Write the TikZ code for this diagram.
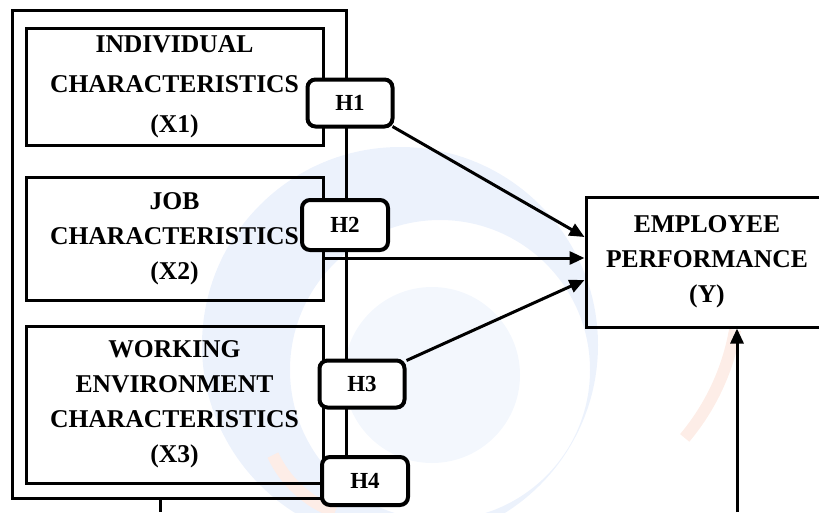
\documentclass[tikz,border=0pt]{standalone}
\usepackage{fontspec}
\setmainfont{Liberation Serif}
\usetikzlibrary{arrows.meta,positioning,calc}
\definecolor{markblue}{RGB}{236,242,252}
\definecolor{markpale}{RGB}{243,247,253}
\definecolor{markorange}{RGB}{253,237,231}
\tikzset{
    var/.style ={rectangle, draw, line width=3pt, inner sep=0pt, align=center, font=\bfseries\fontsize{25.6}{35}\selectfont},
    hyp/.style = {rectangle, draw, rounded corners=8pt, line width=4pt, fill=white, inner sep=0pt, minimum width=85pt, minimum height=47pt, font=\bfseries\fontsize{23}{25}\selectfont},
    link/.style={-{Triangle[length=15pt,width=13pt]}, line width=3pt}
}
\begin{document}
\begin{tikzpicture}[x=1pt,y=-1pt]
    \useasboundingbox (0,0) rectangle (819,512);
    % faint watermark behind the diagram
    \fill[markblue, even odd rule] (400,345) circle (198pt) (440,370) circle (150pt);
    \fill[markpale] (432,375) circle (88pt);
    \draw[markorange, line width=12pt] (735,330) arc (-10:-40:230pt);
    \draw[markorange, line width=12pt] (335,512) arc (250:205:110pt);

    % frame round the three variables
    \node[var, minimum width=334pt, minimum height=488pt] (frame) at (179,254) {};

    % variable boxes with absolute coordinates
    \node[var, minimum width=297pt, minimum height=117pt, font=\bfseries\fontsize{25.6}{40}\selectfont] (x1) at (174.5,86.5) {INDIVIDUAL\\CHARACTERISTICS\\(X1)};
    \node[var, minimum width=297pt, minimum height=123pt] (x2) at (174.5,238.5) {JOB\\CHARACTERISTICS\\(X2)};
    \node[var, minimum width=297pt, minimum height=157pt] (x3) at (174.5,404.5) {WORKING\\ENVIRONMENT\\CHARACTERISTICS\\(X3)};
    \node[var, minimum width=242pt, minimum height=130pt] (y) at (707,262) {EMPLOYEE\\PERFORMANCE\\(Y)};

    % hypothesis labels
    \node[hyp] (h1) at (350,103) {H1};
    \node[hyp, minimum width=86pt, minimum height=50pt] (h2) at (345,225) {H2};
    \node[hyp] (h3) at (362,384) {H3};
    \node[hyp, minimum width=86pt, minimum height=48pt] (h4) at (365,481) {H4};

    % Directed edges
    \coordinate (t1) at ([yshift=25pt]y.west);
    \coordinate (t2) at ([yshift=4pt]y.west);
    \coordinate (t3) at ([yshift=-18pt]y.west);
    \draw[link] ([shift={(-2pt,2pt)}]h1.south east) -- (t1);
    \draw[link] (x2.east |- t2) -- (t2);
    \draw[link] ([shift={(0pt,-2pt)}]h3.north east) -- (t3);

    % lines leaving the bottom edge
    \coordinate (stub) at (160,512);
    \draw[line width=3pt] (frame.south -| stub) -- (stub);
    \coordinate (feed) at (737,512);
    \draw[link] (feed) -- (feed |- y.south);
\end{tikzpicture}
\end{document}
